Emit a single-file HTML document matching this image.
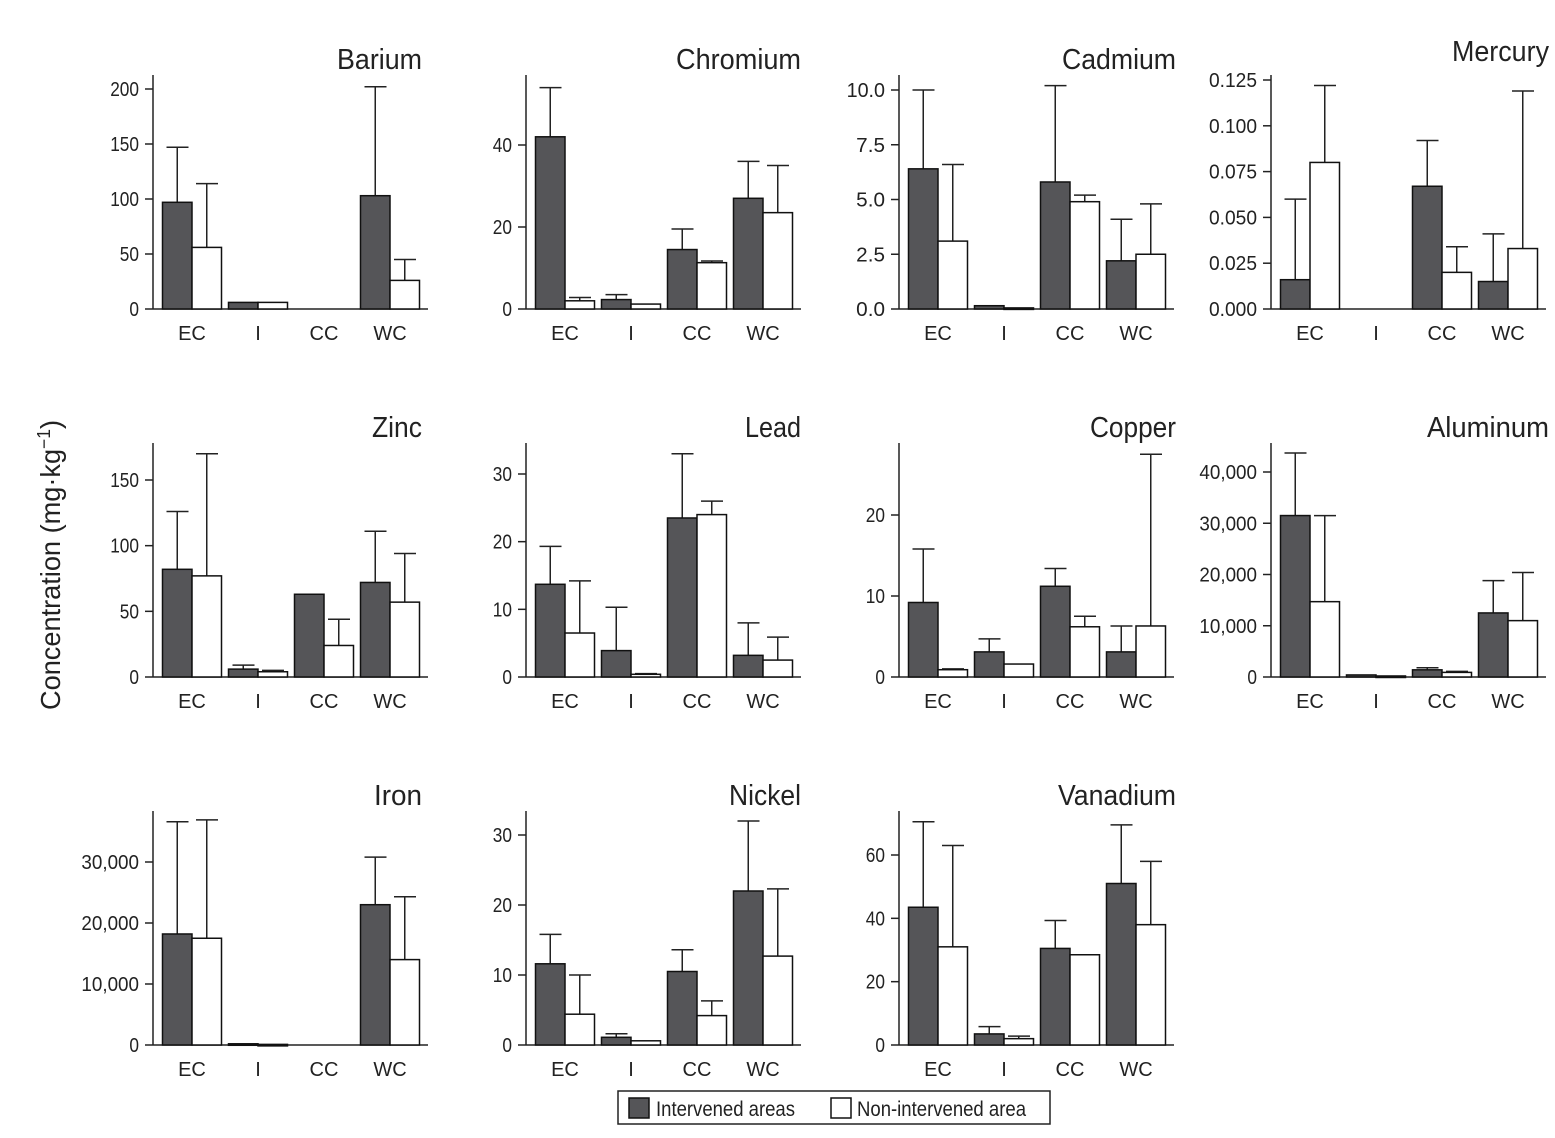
<!DOCTYPE html>
<html><head><meta charset="utf-8">
<style>
html,body{margin:0;padding:0;background:#fff;}
svg{display:block;font-family:"Liberation Sans Narrow","Liberation Sans",sans-serif;}
</style></head>
<body>
<svg id="chart" width="1555" height="1138" viewBox="0 0 1555 1138" xmlns="http://www.w3.org/2000/svg">
<text transform="translate(60,565) rotate(-90)" text-anchor="middle" font-size="28" fill="#222" textLength="290" lengthAdjust="spacingAndGlyphs">Concentration (mg·kg<tspan dy="-10" font-size="18">−1</tspan><tspan dy="10">)</tspan></text>
<g>
<rect x="618" y="1091" width="432" height="33" fill="#fff" stroke="#222" stroke-width="1.5"/>
<rect x="629" y="1098" width="20" height="20" fill="#555558" stroke="#111" stroke-width="1.5"/>
<text x="656" y="1116" font-size="21" fill="#222" textLength="139" lengthAdjust="spacingAndGlyphs">Intervened areas</text>
<rect x="831" y="1098" width="20" height="20" fill="#fff" stroke="#111" stroke-width="1.5"/>
<text x="857" y="1116" font-size="21" fill="#222" textLength="169" lengthAdjust="spacingAndGlyphs">Non-intervened area</text>
</g>
</svg>
<script>
const categories = ["EC","I","CC","WC"];
const metals = ["Barium","Chromium","Cadmium","Mercury","Zinc","Lead","Copper","Aluminum","Iron","Nickel","Vanadium"];
const intervened = [
 [97,6,0,103],[42,2.3,14.5,27],[6.4,0.15,5.8,2.2],[0.016,0,0.067,0.015],
 [82,6,63,72],[13.7,3.9,23.5,3.2],[9.2,3.1,11.2,3.1],[31500,400,1400,12500],
 [18200,200,0,23000],[11.6,1.1,10.5,22],[43.5,3.5,30.5,51]];
const intervenedErr = [
 [147,6,0,202],[54,3.5,19.5,36],[10,0.15,10.2,4.1],[0.060,0,0.092,0.041],
 [126,9,63,111],[19.3,10.3,33,8],[15.8,4.7,13.4,6.3],[43700,400,1800,18800],
 [36600,200,0,30800],[15.8,1.6,13.6,32],[70.5,5.8,39.3,69.5]];
const nonIntervened = [
 [56,6,0,26],[2,1.2,11.3,23.5],[3.1,0.05,4.9,2.5],[0.080,0,0.020,0.033],
 [77,4,24,57],[6.5,0.4,24,2.5],[0.9,1.6,6.2,6.3],[14700,200,900,11000],
 [17500,100,0,14000],[4.4,0.6,4.2,12.7],[31,2,28.5,38]];
const nonIntervenedErr = [
 [114,6,0,45],[2.8,1.2,11.7,35],[6.6,0.05,5.2,4.8],[0.122,0,0.034,0.119],
 [170,5,44,94],[14.2,0.5,26,5.9],[1.0,1.6,7.5,27.5],[31500,200,1100,20400],
 [36900,100,0,24300],[10,0.6,6.3,22.3],[63,2.8,28.5,58]];
const tickLabels = [
 ["0","50","100","150","200"],["0","20","40"],["0.0","2.5","5.0","7.5","10.0"],
 ["0.000","0.025","0.050","0.075","0.100","0.125"],["0","50","100","150"],["0","10","20","30"],
 ["0","10","20"],["0","10,000","20,000","30,000","40,000"],["0","10,000","20,000","30,000"],
 ["0","10","20","30"],["0","20","40","60"]];
const tickValues = [
 [0,50,100,150,200],[0,20,40],[0,2.5,5,7.5,10],[0,0.025,0.05,0.075,0.1,0.125],
 [0,50,100,150],[0,10,20,30],[0,10,20],[0,10000,20000,30000,40000],[0,10000,20000,30000],
 [0,10,20,30],[0,20,40,60]];
const topTickPx = [220,164,219,229,197,203,162,205,183,210,190];
const titleWidths = [85,125,114,97,50,56,86,122,48,72,118];

const svg = document.getElementById('chart');
const NS = "http://www.w3.org/2000/svg";
function mk(tag, attrs){const e=document.createElementNS(NS,tag);for(const k in attrs)e.setAttribute(k,attrs[k]);return e;}
const colX=[153,526,899,1271], rowY=[309,677,1045], titleOff=[269,275,277,278];
metals.forEach((m,i)=>{
  const ax=colX[i%4], base=rowY[Math.floor(i/4)];
  const tv=tickValues[i];
  const k=topTickPx[i]/tv[tv.length-1];
  const y=v=>base-v*k;
  const g=mk('g',{});
  
  
  svg.appendChild(g);
  const tw=titleWidths[i];
  const t=mk('text',{x:ax+titleOff[i%4]-tw,y:base-(m==="Mercury"?248:240),'font-size':29,fill:'#222',textLength:tw,lengthAdjust:'spacingAndGlyphs'});
  t.textContent=m;
  
  
  g.appendChild(t);
  const yax=mk('line',{x1:ax,y1:base-234,x2:ax,y2:base,stroke:'#222','stroke-width':1.5});
  
  
  g.appendChild(yax);
  const xax=mk('line',{x1:ax,y1:base,x2:ax+275,y2:base,stroke:'#222','stroke-width':1.5});
  
  
  g.appendChild(xax);
  tv.forEach((v,j)=>{
    const tk=mk('line',{x1:ax-8,y1:y(v),x2:ax,y2:y(v),stroke:'#222','stroke-width':1.5});
    
    
    g.appendChild(tk);
    const lbl=tickLabels[i][j];
    const tl=mk('text',{x:ax-14,y:y(v)+7,'text-anchor':'end','font-size':20,fill:'#222',textLength:(lbl.length*9.6).toFixed(1),lengthAdjust:'spacingAndGlyphs'});
    tl.textContent=lbl;
    
    
    g.appendChild(tl);
  });
  categories.forEach((c,j)=>{
    const cx=ax+39+j*66;
    const cl=mk('text',{x:cx,y:base+31,'text-anchor':'middle','font-size':20,fill:'#222'});
    cl.textContent=c;
    
    
    g.appendChild(cl);
    [[intervened,intervenedErr,'#555558',cx-29.5],[nonIntervened,nonIntervenedErr,'#fff',cx]].forEach(([vals,errs,fill,x0],s)=>{
      const v=vals[i][j], e=errs[i][j];
      if(e>v){
        const el=mk('line',{x1:x0+14.75,y1:y(e),x2:x0+14.75,y2:y(v),stroke:'#222','stroke-width':1.5});
        
        
        g.appendChild(el);
        const cap=mk('line',{x1:x0+4,y1:y(e),x2:x0+26,y2:y(e),stroke:'#222','stroke-width':1.5});
        
        
        g.appendChild(cap);
      }
      if(v>0){
        const r=mk('rect',{x:x0,y:y(v),width:29.5,height:Math.max(v*k,1.5),fill:fill,stroke:'#111','stroke-width':1.5});
        
        
        g.appendChild(r);
      }
    });
  });
});
</script>
</body></html>
